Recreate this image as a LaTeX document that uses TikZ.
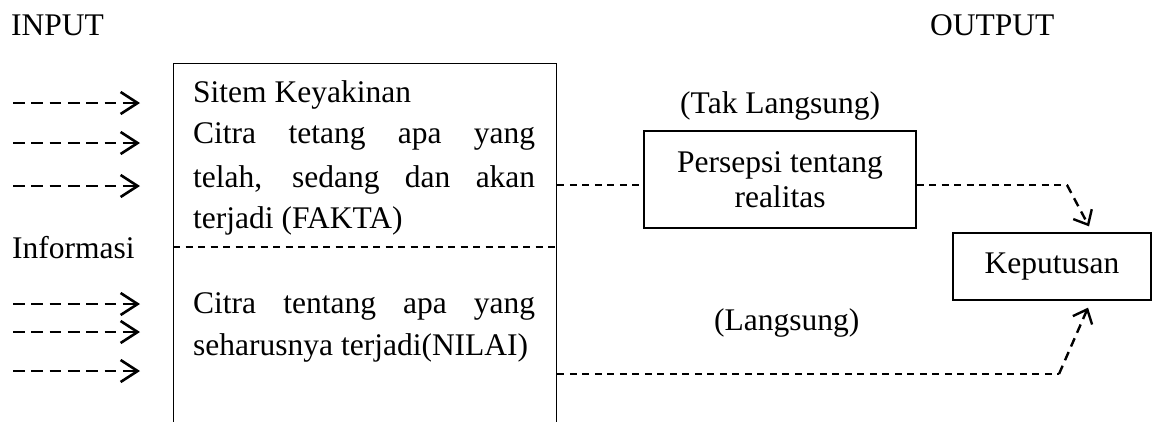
\documentclass[tikz,border=0pt]{standalone}
\usepackage{fontspec}
\setmainfont{Liberation Serif}
\usetikzlibrary{arrows.meta,calc}
\begin{document}
\begin{tikzpicture}[x=1pt,y=-1pt,
  txt/.style={font=\fontsize{31.5}{35}\selectfont, inner sep=0pt},
  boxnode/.style={draw=black, line width=1.3pt, inner sep=0pt, font=\fontsize{31.5}{35}\selectfont},
  conn/.style={line width=1.6pt, dash pattern=on 7pt off 5.5pt},
  diag/.style={line width=2.4pt, dash pattern=on 9pt off 6pt},
  inarrow/.style={line width=2.6pt, dash pattern=on 11.7pt off 6.6pt, -{Straight Barb[length=17pt,width=22pt,line width=2.6pt]}},
  tipend/.style={-{Straight Barb[length=12pt,width=21pt,line width=2.4pt]}}
]
\useasboundingbox (0,0) rectangle (1153,421);
\clip (0,0) rectangle (1153,421);

% headers
\node[txt, anchor=base west] (input) at (11,35) {INPUT};
\node[txt, anchor=base west] (output) at (930,35) {OUTPUT};
\node[txt, anchor=base west] (info) at (12,258) {Informasi};

% main box (open at bottom, runs off the page)
\node[boxnode, minimum width=383pt, minimum height=400pt, anchor=north west] (sys) at (173,63) {};
\coordinate (divy) at (0,247);
\draw[conn] (sys.west |- divy) -- (sys.east |- divy);

\node[txt, anchor=base west] (l1) at (193,102) {Sitem Keyakinan};
\node[txt, anchor=base west] (l2) at (193,143) {\makebox[342pt][s]{Citra tetang apa yang}};
\node[txt, anchor=base west] (l3) at (193,187) {\makebox[342pt][s]{telah, sedang dan akan}};
\node[txt, anchor=base west] (l4) at (193,228) {terjadi (FAKTA)};
\node[txt, anchor=base west] (l5) at (193,313) {\makebox[342pt][s]{Citra tentang apa yang}};
\node[txt, anchor=base west] (l6) at (193,355) {seharusnya terjadi(NILAI)};

% input arrows
\foreach \yy [count=\i] in {103,143,186,304,332,371} {
  \coordinate (is\i) at (13,\yy);
  \coordinate (ie\i) at (140,\yy);
  \draw[inarrow] (is\i) -- (ie\i);
}

% right side
\node[txt, anchor=base west] (tak) at (680,113) {(Tak Langsung)};
\node[boxnode, minimum width=272pt, minimum height=97pt, align=center] (pers) at (780,179.5) {Persepsi tentang\\realitas};
\node[boxnode, minimum width=198pt, minimum height=67pt] (kep) at (1052,266.5) {Keputusan};
\node[txt, anchor=base west] (lang) at (714,330) {(Langsung)};

\coordinate (y1) at (0,185);
\coordinate (b1) at (1067,185);
\coordinate (b2) at (1059,374);
\draw[conn] (sys.east |- y1) -- (pers.west |- y1);
\draw[conn] (pers.east |- y1) -- (b1);
\draw[diag, tipend] (b1) -- ($(kep.north)+(37,-6)$);
\draw[conn] (sys.east |- b2) -- (b2);
\draw[diag, tipend] (b2) -- ($(kep.south)+(36,7)$);
\end{tikzpicture}
\end{document}
